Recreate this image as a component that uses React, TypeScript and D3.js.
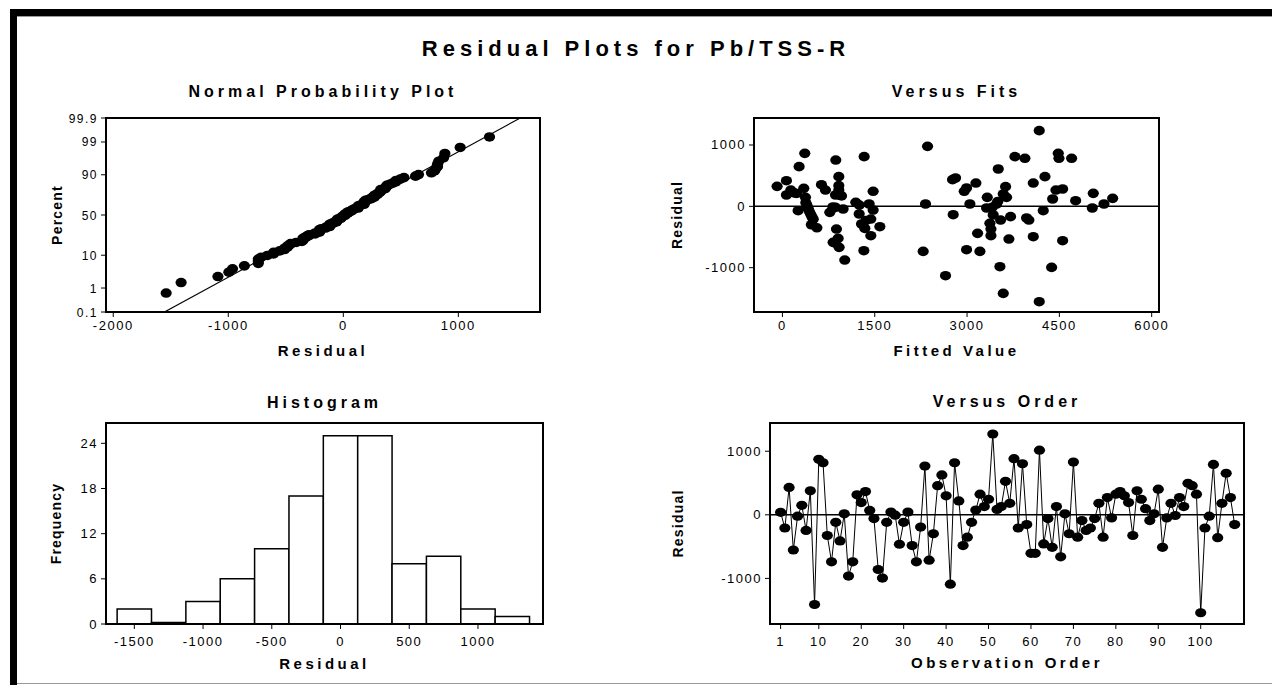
import React from 'react'
import * as d3 from 'd3'

// residuals in observation order
const residuals = [
  40, -207, 431, -553, -21, 149, -245, 378, -1410, 872,
  819, -325, -739, -118, -410, 16, -963, -739, 314, 192,
  365, 69, -59, -860, -995, -118, 43, -5, -463, -118,
  43, -484, -739, -192, 766, -713, -298, 458, 628, 298,
  -1090, 819, 218, -484, -351, -118, 74, 325, 130, 245,
  1271, 85, 130, 527, 181, 883, -207, 803, -154, -606,
  -606, 1016, -458, -59, -511, 130, -660, 16, -298, 830,
  -351, -90, -245, -207, -59, 181, -351, 271, -48, 325,
  367, 298, 192, -325, 378, 245, 96, -90, 16, 404,
  -511, -48, 181, -11, 271, 130, 495, 458, 325, -1540,
  -207, -21, 793, -360, 181, 654, 271, -154,
]

// versus fits scatter
const fitValues = [
  -87, 65, 65, 136, 190, 230, 271, 255, 347, 363, 374, 380, 400, 420, 440, 460, 480, 500, 470, 560,
  634, 699, 770, 867, 820, 862, 916, 916, 916, 932, 960, 862, 986, 824, 878, 905, 921, 1013, 860,
  1192, 1328, 1247, 1285, 1339, 1323, 1409, 1436, 1474, 1474, 1436, 1583, 1360, 1250,
  2287, 2325, 2358, 2650, 2764, 2813, 2775, 2954, 2992, 2992, 3046, 3144, 3171, 3209, 3328, 3317,
  3371, 3388, 3388, 3409, 3425, 3480, 3507, 3534, 3545, 3588, 3626, 3642, 3588, 3707, 3680, 3778,
  3940, 3967, 4005, 4076, 4076, 4173, 4173, 4238, 4266, 4374, 4391, 4444, 4482, 4493, 4553, 4553,
  4699, 4764, 5035, 5051, 5225, 5366, 3500,
]
const fitResiduals = [
  326, 418, 185, 266, 220, 210, 647, -71, 293, 864, 147, 60, 10, -40, -90, -130, -170, -210, -300, -350,
  353, 266, -98, 755, -10, 185, 484, 337, 266, 185, 170, -16, -43, -587, -370, -522, -668, -875, -600,
  65, 810, -125, -288, -359, -723, 38, -207, -60, 245, -478, -332, -230, 20,
  -734, 38, 978, -1130, 435, 462, -136, 245, 299, -707, 38, 380, -440, -734, 147, -27,
  -277, -370, -478, -16, -141, 38, 609, -984, -223, 201, 321, 147, -1419, -168, -533, 810,
  783, -190, -223, 380, -495, 1234, -1554, -71, 484, -995, 120, 266, 864, 783, 283, -560,
  783, 92, -27, 212, 38, 130, 80,
]

// histogram
const histMids = [-1500, -1250, -1000, -750, -500, -250, 0, 250, 500, 750, 1000, 1250]
const histCounts = [2, 0, 3, 6, 10, 17, 25, 25, 8, 9, 2, 1]

const probTicks = [0.1, 1, 10, 50, 90, 99, 99.9]
const npResidTicks = [-2000, -1000, 0, 1000]
const fitTicks = [0, 1500, 3000, 4500, 6000]
const residTicks = [-1000, 0, 1000]
const freqTicks = [0, 6, 12, 18, 24]
const histTicks = [-1500, -1000, -500, 0, 500, 1000]
const orderTicks = [1, 10, 20, 30, 40, 50, 60, 70, 80, 90, 100]

// inverse normal cdf (Acklam)
function invNorm(p: number) {
  const a = [-39.69683028665376, 220.9460984245205, -275.9285104469687, 138.357751867269, -30.66479806614716, 2.506628277459239]
  const b = [-54.47609879822406, 161.5858368580409, -155.6989798598866, 66.80131188771972, -13.28068155288572]
  const c = [-0.007784894002430293, -0.3223964580411365, -2.400758277161838, -2.549671010229583, 4.374664141464968, 2.938163982698783]
  const d = [0.007784695709041462, 0.3224671290700398, 2.445134137142996, 3.754408661907416]
  const pl = 0.02425
  if (p < pl) {
    const q = Math.sqrt(-2 * Math.log(p))
    return (((((c[0] * q + c[1]) * q + c[2]) * q + c[3]) * q + c[4]) * q + c[5]) / ((((d[0] * q + d[1]) * q + d[2]) * q + d[3]) * q + 1)
  }
  if (p <= 1 - pl) {
    const q = p - 0.5, r = q * q
    return (((((a[0] * r + a[1]) * r + a[2]) * r + a[3]) * r + a[4]) * r + a[5]) * q / (((((b[0] * r + b[1]) * r + b[2]) * r + b[3]) * r + b[4]) * r + 1)
  }
  const q = Math.sqrt(-2 * Math.log(1 - p))
  return -(((((c[0] * q + c[1]) * q + c[2]) * q + c[3]) * q + c[4]) * q + c[5]) / ((((d[0] * q + d[1]) * q + d[2]) * q + d[3]) * q + 1)
}

const FONT = '"Liberation Sans", Arial, sans-serif'
const tickStyle: React.CSSProperties = { fontFamily: FONT, fontSize: 13, letterSpacing: 1.5 }
const labStyle: React.CSSProperties = { fontFamily: FONT, fontSize: 15, fontWeight: 'bold', letterSpacing: 3.5 }
const subStyle: React.CSSProperties = { fontFamily: FONT, fontSize: 16, fontWeight: 'bold', letterSpacing: 4 }
const yLabStyle: React.CSSProperties = { fontFamily: FONT, fontSize: 14, fontWeight: 'bold', letterSpacing: 1.2 }

type Box = { x0: number, x1: number, y0: number, y1: number }

function Clip({ b, id }: { b: Box, id: string }) {
  return <clipPath id={id}><rect x={b.x0} y={b.y0} width={b.x1 - b.x0} height={b.y1 - b.y0} /></clipPath>
}

function XAxis({ b, scale, ticks, off }: { b: Box, scale: (v: number) => number, ticks: number[], off: number }) {
  return (
    <g>
      {ticks.map(t => (
        <g key={t}>
          <line x1={scale(t)} x2={scale(t)} y1={b.y1} y2={b.y1 + 5} stroke="#000" strokeWidth={1} />
          <text x={scale(t)} y={b.y1 + off} textAnchor="middle" style={tickStyle}>{String(t)}</text>
        </g>
      ))}
    </g>
  )
}

function YAxis({ b, scale, ticks, fs }: { b: Box, scale: (v: number) => number, ticks: number[], fs?: number }) {
  return (
    <g>
      {ticks.map(t => (
        <g key={t}>
          <line x1={b.x0 - 5} x2={b.x0} y1={scale(t)} y2={scale(t)} stroke="#000" strokeWidth={1} />
          <text x={b.x0 - 8} y={scale(t) + 4.5} textAnchor="end" style={{ ...tickStyle, fontSize: fs || 13 }}>{String(t)}</text>
        </g>
      ))}
    </g>
  )
}

export default function App() {
  const W = 1272, H = 685

  const b1: Box = { x0: 106, x1: 540, y0: 118, y1: 312 }
  const b2: Box = { x0: 754, x1: 1159, y0: 118, y1: 312 }
  const b3: Box = { x0: 106, x1: 543, y0: 423, y1: 624 }
  const b4: Box = { x0: 770, x1: 1244, y0: 423, y1: 624 }

  // normal probability plot
  const zMax = invNorm(0.999)
  const xNP = d3.scaleLinear().domain([-2063, 1710]).range([b1.x0, b1.x1])
  const yNP = d3.scaleLinear().domain([-zMax, zMax]).range([b1.y1, b1.y0])
  const n = residuals.length
  const sorted = residuals.slice().sort((a, b) => a - b)
  const npPts = sorted.map((r, i) => ({ x: r, z: invNorm((i + 1 - 0.3) / (n + 0.4)) }))
  const mu = d3.mean(residuals) as number
  const sd = d3.deviation(residuals) as number
  const npLine = d3.line<number>().x(z => xNP(mu + z * sd)).y(z => yNP(z))([-zMax, zMax])

  // versus fits
  const xF = d3.scaleLinear().domain([-462, 6119]).range([b2.x0, b2.x1])
  const yF = d3.scaleLinear().domain([-1722, 1440]).range([b2.y1, b2.y0])

  // histogram
  const xH = d3.scaleLinear().domain([-1706, 1473]).range([b3.x0, b3.x1])
  const yH = d3.scaleLinear().domain([0, 26.7]).range([b3.y1, b3.y0])

  // versus order
  const xO = d3.scaleLinear().domain([-1.5, 110.2]).range([b4.x0, b4.x1])
  const yO = d3.scaleLinear().domain([-1717, 1444]).range([b4.y1, b4.y0])
  const orderLine = d3.line<number>().x((_, i) => xO(i + 1)).y(v => yO(v))(residuals)

  const boxRect = (b: Box) => <rect x={b.x0} y={b.y0} width={b.x1 - b.x0} height={b.y1 - b.y0} fill="none" stroke="#000" strokeWidth={2} />
  const midX = (b: Box) => (b.x0 + b.x1) / 2
  const midY = (b: Box) => (b.y0 + b.y1) / 2

  return (
    <svg width={W} height={H} style={{ position: 'absolute', left: 0, top: 0, background: '#fff' }}>
      <defs>
        <Clip b={b1} id="c1" />
        <Clip b={b4} id="c4" />
      </defs>
      <rect x={0} y={0} width={W} height={H} fill="#fff" />
      {/* outer frame */}
      <rect x={10} y={9} width={W - 10} height={7} fill="#000" />
      <rect x={10} y={9} width={7} height={H - 9} fill="#000" />
      <line x1={17} x2={W} y1={16.5} y2={16.5} stroke="#999" strokeWidth={1} />
      <line x1={17} x2={W} y1={683.5} y2={683.5} stroke="#999" strokeWidth={1} />

      <text x={636} y={56} textAnchor="middle" style={{ fontFamily: FONT, fontSize: 22, fontWeight: 'bold', letterSpacing: 5 }}>Residual Plots for Pb/TSS-R</text>

      {/* Normal probability plot */}
      <text x={midX(b1)} y={97} textAnchor="middle" style={subStyle}>Normal Probability Plot</text>
      <path d={npLine || ''} stroke="#000" strokeWidth={1.2} fill="none" clipPath="url(#c1)" />
      {npPts.map((p, i) => <ellipse key={i} cx={xNP(p.x)} cy={yNP(p.z)} rx={5.6} ry={4.8} fill="#000" />)}
      {boxRect(b1)}
      <YAxis b={b1} scale={v => yNP(invNorm(v / 100))} ticks={probTicks} fs={12} />
      <XAxis b={b1} scale={xNP} ticks={npResidTicks} off={18} />
      <text x={midX(b1)} y={356} textAnchor="middle" style={labStyle}>Residual</text>
      <text transform={`translate(62,${midY(b1)}) rotate(-90)`} textAnchor="middle" style={yLabStyle}>Percent</text>

      {/* Versus fits */}
      <text x={midX(b2)} y={97} textAnchor="middle" style={subStyle}>Versus Fits</text>
      <line x1={b2.x0} x2={b2.x1} y1={yF(0)} y2={yF(0)} stroke="#000" strokeWidth={1.5} />
      {fitValues.map((f, i) => <ellipse key={i} cx={xF(f)} cy={yF(fitResiduals[i])} rx={5.6} ry={4.8} fill="#000" />)}
      {boxRect(b2)}
      <YAxis b={b2} scale={yF} ticks={residTicks} />
      <XAxis b={b2} scale={xF} ticks={fitTicks} off={18} />
      <text x={midX(b2)} y={356} textAnchor="middle" style={labStyle}>Fitted Value</text>
      <text transform={`translate(682,${midY(b2)}) rotate(-90)`} textAnchor="middle" style={yLabStyle}>Residual</text>

      {/* Histogram */}
      <text x={midX(b3)} y={408} textAnchor="middle" style={subStyle}>Histogram</text>
      {histMids.map((m, i) => {
        const x0 = xH(m - 125), x1 = xH(m + 125), yb = yH(0), yt = yH(histCounts[i])
        return <path key={m} d={`M${x0},${yb}V${Math.min(yt, yb - 1.5)}H${x1}V${yb}`} fill="#fff" stroke="#000" strokeWidth={1.5} />
      })}
      {boxRect(b3)}
      <YAxis b={b3} scale={yH} ticks={freqTicks} />
      <XAxis b={b3} scale={xH} ticks={histTicks} off={22} />
      <text x={midX(b3)} y={669} textAnchor="middle" style={labStyle}>Residual</text>
      <text transform={`translate(61,${midY(b3)}) rotate(-90)`} textAnchor="middle" style={yLabStyle}>Frequency</text>

      {/* Versus order */}
      <text x={midX(b4)} y={407} textAnchor="middle" style={subStyle}>Versus Order</text>
      <line x1={b4.x0} x2={b4.x1} y1={yO(0)} y2={yO(0)} stroke="#000" strokeWidth={1.5} />
      <path d={orderLine || ''} stroke="#000" strokeWidth={1} fill="none" clipPath="url(#c4)" />
      {residuals.map((r, i) => <ellipse key={i} cx={xO(i + 1)} cy={yO(r)} rx={5.6} ry={4.6} fill="#000" />)}
      {boxRect(b4)}
      <YAxis b={b4} scale={yO} ticks={residTicks} />
      <XAxis b={b4} scale={xO} ticks={orderTicks} off={22} />
      <text x={midX(b4)} y={668} textAnchor="middle" style={labStyle}>Observation Order</text>
      <text transform={`translate(683,${midY(b4)}) rotate(-90)`} textAnchor="middle" style={yLabStyle}>Residual</text>
    </svg>
  )
}
